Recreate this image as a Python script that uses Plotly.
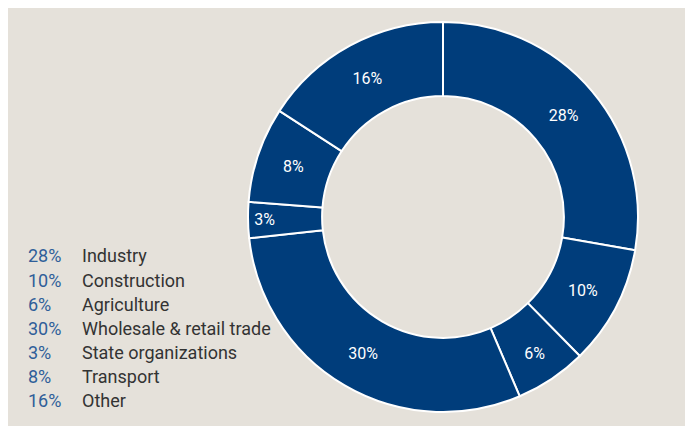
import plotly.graph_objects as go

categories = ["Industry", "Construction", "Agriculture", "Wholesale & retail trade",
              "State organizations", "Transport", "Other"]
shares = [28, 10, 6, 30, 3, 8, 16]
share_labels = [f"{v}%" for v in shares]

W, H = 693, 426
BLUE = "#003D7B"
BEIGE = "#E5E1DA"
FONT = "Roboto"

# figure-space geometry (page is offset by the 8px body margin)
cx, cy, R = 435, 209, 195

fig = go.Figure()
fig.add_trace(go.Pie(
    labels=categories,
    values=shares,
    text=share_labels,
    textinfo="text",
    sort=False,
    direction="clockwise",
    rotation=0,
    hole=0.62,
    marker=dict(colors=[BLUE] * len(shares), line=dict(color="white", width=2)),
    textfont=dict(color="white", size=16, family=FONT),
    insidetextorientation="horizontal",
    textposition="inside",
    showlegend=False,
    hoverinfo="label+text",
    domain=dict(x=[(cx - R) / W, (cx + R) / W], y=[(H - cy - R) / H, (H - cy + R) / H]),
))

annotations = []
y0, dy = 248, 24
for i, (lab, cat) in enumerate(zip(share_labels, categories)):
    yy = (H - (y0 + i * dy)) / H
    annotations.append(dict(x=18 / W, y=yy, xref="paper", yref="paper", text=lab, showarrow=False,
                            xanchor="left", yanchor="middle",
                            font=dict(color="#2F5E99", size=18, family=FONT)))
    annotations.append(dict(x=72 / W, y=yy, xref="paper", yref="paper", text=cat, showarrow=False,
                            xanchor="left", yanchor="middle",
                            font=dict(color="#333333", size=18, family=FONT)))

fig.update_layout(
    width=W, height=H,
    margin=dict(l=0, r=0, t=0, b=0),
    paper_bgcolor=BEIGE,
    plot_bgcolor=BEIGE,
    annotations=annotations,
)

fig.write_html("out.html")
